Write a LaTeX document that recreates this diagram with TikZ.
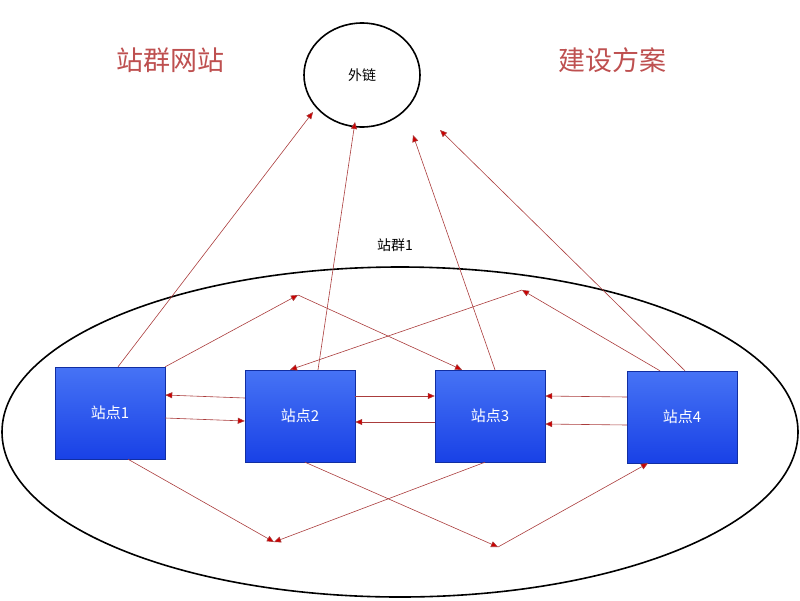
\documentclass[tikz,border=0pt]{standalone}
\usepackage{fontspec}
\newfontfamily\cjk{Noto Sans CJK SC}
\usetikzlibrary{arrows.meta,shapes.geometric}
\definecolor{titlered}{RGB}{190,80,80}
\definecolor{linkred}{RGB}{170,60,60}
\definecolor{siteblue}{RGB}{25,65,230}
\definecolor{sitelight}{RGB}{70,115,245}
\begin{document}
\begin{tikzpicture}[x=1pt,y=-1pt,
	  site/.style={draw=siteblue!70!black,top color=sitelight,bottom color=siteblue,
	    minimum width=110pt,minimum height=92pt,font=\cjk\fontsize{15}{15}\selectfont,text=white},
	  link/.style={draw=linkred,line width=0.6pt,-{Triangle[length=7pt,width=6pt,fill=red!80!black]}},
	  title/.style={font=\cjk\fontsize{27}{27}\selectfont,text=titlered}]
	  \useasboundingbox (0,0) rectangle (800,600);
	  \node (group) [draw,ellipse,line width=1.6pt,minimum width=796pt,minimum height=330pt] at (400,432) {};
	  \node (ext) [draw,ellipse,line width=1.6pt,minimum width=116pt,minimum height=104pt] at (362,75) {};
	  \node at (ext) {\cjk\fontsize{14}{14}\selectfont 外链};
	  \node (t1) [title] at (170,60) {站群网站};
	  \node (t2) [title] at (612,60) {建设方案};
	  \node (gname) at (395,245) {\cjk\fontsize{14}{14}\selectfont 站群1};
	  \node (s1) [site] at (110,413) {站点1};
	  \node (s2) [site] at (300,416) {站点2};
	  \node (s3) [site] at (490,416) {站点3};
	  \node (s4) [site] at (682,417) {站点4};
	  % relay points
	  \coordinate (up1) at (298,295);
	  \coordinate (up2) at (522,290);
	  \coordinate (dn1) at (274,542);
	  \coordinate (dn2) at (498,547);
	  % to the outer link
	  \draw[link] ([xshift=8pt]s1.north) -- (313,112);
	  \draw[link] ([xshift=18pt]s2.north) -- (355,122);
	  \draw[link] ([xshift=5pt]s3.north) -- (413,135);
	  \draw[link] ([xshift=3pt]s4.north) -- (440,130);
	  % across the group
	  \draw[link] (s1.north east) -- (up1);
	  \draw[link] (up1) -- ([xshift=-28pt]s3.north);
	  \draw[link] ([xshift=-22pt]s4.north) -- (up2);
	  \draw[link] (up2) -- ([xshift=-10pt]s2.north);
	  \draw[link] ([xshift=18pt]s1.south) -- (dn1);
	  \draw[link] ([xshift=-5pt]s3.south) -- (dn1);
	  \draw[link] ([xshift=5pt]s2.south) -- (dn2);
	  \draw[link] (dn2) -- ([xshift=-34pt]s4.south);
	  % neighbours
	  \draw[link] ([yshift=18pt]s2.west) -- ([yshift=18pt]s1.east);
	  \draw[link] ([yshift=-5pt]s1.east) -- ([yshift=-5pt]s2.west);
	  \draw[link] ([yshift=20pt]s2.east) -- ([yshift=20pt]s3.west);
	  \draw[link] ([yshift=-6pt]s3.west) -- ([yshift=-6pt]s2.east);
	  \draw[link] ([yshift=20pt]s4.west) -- ([yshift=20pt]s3.east);
	  \draw[link] ([yshift=-8pt]s4.west) -- ([yshift=-8pt]s3.east);
\end{tikzpicture}
\end{document}
